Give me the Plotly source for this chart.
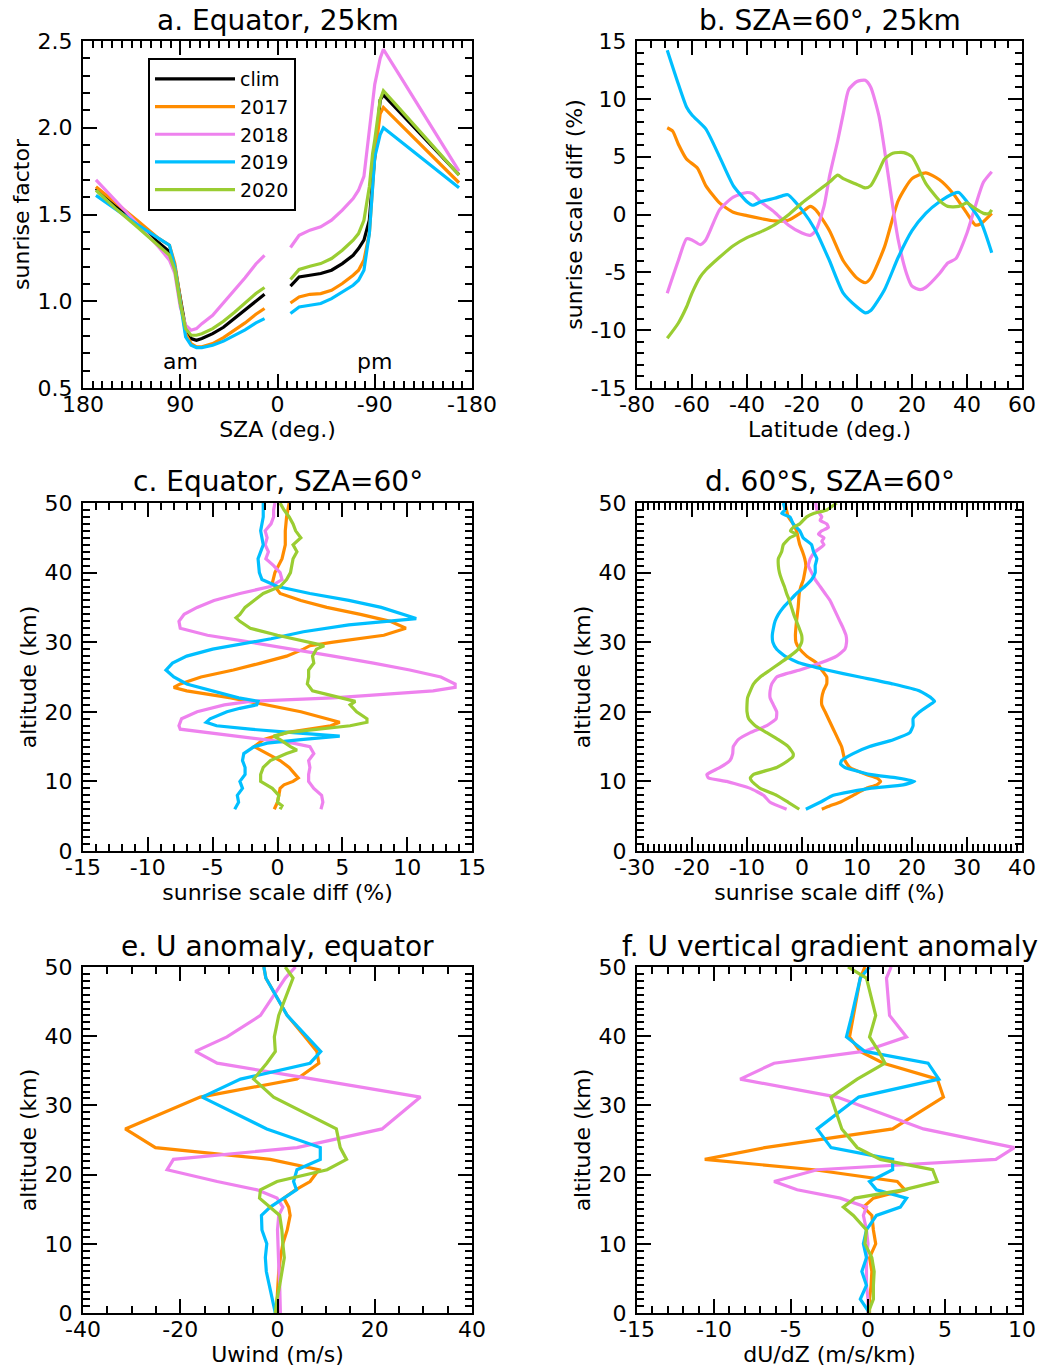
import plotly.graph_objects as go

# ---------------- colours / series ----------------
series_names = ["clim", "2017", "2018", "2019", "2020"]
series_colors = ["#000000", "#FF8C00", "#EE82EE", "#00BFFF", "#9ACD32"]

# ---------------- panel a : sunrise factor vs SZA (Equator, 25 km) ----------------
sza_am = [168, 150, 130, 110, 100, 95, 90, 85, 80, 75, 70, 60, 50, 40, 30, 20, 12]
sza_pm = [-12, -20, -30, -40, -50, -60, -70, -75, -80, -85, -88, -90, -95, -98, -110, -130, -150, -168]

a_am = {
    "clim": [1.65, 1.556, 1.446, 1.338, 1.285, 1.198, 1.006, 0.842, 0.785, 0.775, 0.785, 0.813, 0.85, 0.90, 0.95, 1.0, 1.04],
    "2017": [1.66, 1.57, 1.467, 1.362, 1.323, 1.217, 1.006, 0.813, 0.756, 0.737, 0.737, 0.756, 0.79, 0.83, 0.875, 0.925, 0.958],
    "2018": [1.70, 1.583, 1.448, 1.313, 1.237, 1.16, 0.967, 0.862, 0.833, 0.842, 0.871, 0.919, 0.99, 1.06, 1.135, 1.215, 1.265],
    "2019": [1.61, 1.529, 1.444, 1.362, 1.323, 1.198, 0.987, 0.794, 0.746, 0.733, 0.733, 0.746, 0.77, 0.80, 0.835, 0.875, 0.90],
    "2020": [1.64, 1.535, 1.429, 1.323, 1.265, 1.179, 0.987, 0.842, 0.804, 0.804, 0.813, 0.842, 0.885, 0.935, 0.99, 1.045, 1.079],
}
a_pm = {
    "clim": [1.087, 1.14, 1.15, 1.16, 1.179, 1.217, 1.265, 1.304, 1.352, 1.467, 1.70, 1.833, 2.16, 2.19, 2.111, 1.979, 1.848, 1.729],
    "2017": [0.99, 1.025, 1.04, 1.044, 1.063, 1.102, 1.15, 1.179, 1.237, 1.39, 1.66, 1.83, 2.08, 2.117, 2.043, 1.919, 1.795, 1.683],
    "2018": [1.31, 1.38, 1.41, 1.429, 1.467, 1.525, 1.592, 1.64, 1.72, 1.98, 2.15, 2.25, 2.40, 2.452, 2.332, 2.131, 1.93, 1.75],
    "2019": [0.929, 0.967, 0.977, 0.987, 1.015, 1.054, 1.092, 1.121, 1.179, 1.39, 1.66, 1.83, 1.96, 2.0, 1.941, 1.842, 1.743, 1.654],
    "2020": [1.125, 1.183, 1.202, 1.217, 1.246, 1.294, 1.352, 1.39, 1.467, 1.66, 1.85, 1.93, 2.16, 2.213, 2.13, 1.991, 1.852, 1.727],
}

# ---------------- panel b : sunrise scale diff vs latitude ----------------
b_lat_2017 = [-69, -67, -65, -62, -58, -55, -50, -45, -40, -35, -30, -25, -20, -17, -15, -10, -5, 0, 3, 5, 10, 15, 20, 25, 30, 35, 40, 43, 45, 49]
b_val_2017 = [7.5, 7.2, 6.1, 4.8, 4.0, 2.5, 1.0, 0.2, -0.1, -0.35, -0.55, -0.5, 0.2, 0.7, 0.4, -1.4, -4.0, -5.5, -5.9, -5.5, -2.8, 1.2, 3.1, 3.6, 3.0, 1.8, 0.1, -0.9, -0.8, 0.1]
b_lat_2018 = [-69, -65, -62, -60, -57, -55, -50, -45, -40, -38, -35, -30, -25, -20, -17, -15, -12, -10, -7, -5, -3, 0, 3, 5, 8, 10, 13, 15, 18, 20, 23, 25, 30, 33, 36, 40, 43, 46, 49]
b_val_2018 = [-6.8, -4.0, -2.1, -2.2, -2.6, -2.2, 0.4, 1.5, 1.9, 1.8, 1.1, 0.2, -0.9, -1.6, -1.8, -1.4, 0.7, 3.3, 6.4, 8.7, 10.8, 11.5, 11.6, 11.0, 8.5, 5.6, 0.7, -2.2, -5.1, -6.2, -6.5, -6.3, -5.1, -4.2, -3.8, -1.6, 0.7, 2.8, 3.7]
b_lat_2019 = [-69, -65, -62, -60, -55, -50, -45, -40, -38, -35, -30, -26, -25, -20, -15, -10, -5, 0, 3, 5, 10, 15, 20, 25, 30, 35, 37, 40, 45, 49]
b_val_2019 = [14.2, 11.3, 9.3, 8.6, 7.4, 5.0, 2.5, 1.1, 0.8, 1.1, 1.4, 1.7, 1.7, 0.4, -1.4, -4.0, -6.8, -8.0, -8.5, -8.3, -6.5, -3.7, -1.4, 0.1, 1.1, 1.8, 1.9, 1.1, -0.6, -3.3]
b_lat_2020 = [-69, -65, -62, -60, -57, -55, -50, -45, -40, -35, -30, -25, -20, -15, -10, -7, -5, 0, 3, 5, 8, 10, 13, 17, 20, 25, 30, 33, 37, 40, 43, 46, 48, 49]
b_val_2020 = [-10.7, -9.4, -8.0, -6.8, -5.4, -4.8, -3.7, -2.7, -2.0, -1.5, -0.9, -0.05, 1.0, 1.9, 2.8, 3.4, 3.1, 2.6, 2.3, 2.5, 3.8, 4.8, 5.3, 5.35, 5.0, 2.7, 1.2, 0.7, 0.7, 1.0, 0.5, 0.1, 0.1, 0.4]

# ---------------- panel c : Equator, SZA=60, profiles ----------------
c_alt_2017 = [50, 48, 46, 44, 42, 40, 38.5, 37, 36, 35, 34, 33, 32, 31, 30, 29.5, 29, 28, 27, 26, 25, 24, 23.5, 23, 22, 21, 20, 19, 18.5, 18, 17, 16, 15, 14, 13, 12, 11, 10.5, 10, 9.5, 9, 8, 7, 6]
c_val_2017 = [0.9, 0.7, 0.6, 0.6, 0.35, -0.2, -0.4, 0.2, 1.8, 3.8, 6.4, 8.7, 9.9, 8.2, 4.3, 2.5, 2.0, 0.7, -1.3, -3.4, -5.9, -7.5, -8.0, -7.0, -3.6, -0.8, 1.8, 3.8, 4.8, 4.1, 0.7, -1.1, -1.8, -0.8, 0.2, 0.9, 1.4, 1.6, 1.2, 0.5, 0.2, 0.1, 0.0, -0.25]
c_alt_2018 = [50, 49, 48, 47, 46, 45, 44, 43, 42, 41, 40, 39, 38, 37, 36, 35, 34, 33, 32, 31, 30, 29, 28, 27, 26, 25, 24, 23.5, 23, 22, 21.5, 21, 20, 19, 18, 17.5, 17, 16, 15.5, 15, 14, 13, 12, 11, 10, 9, 8, 7, 6]
c_val_2018 = [-0.2, -0.3, -0.3, -0.5, -0.95, -0.8, -0.95, -0.7, -0.9, -0.3, 0.2, 0.35, -0.55, -2.9, -4.9, -6.2, -7.2, -7.6, -7.5, -5.4, -2.1, 1.2, 4.3, 7.4, 10.2, 12.6, 13.7, 13.7, 12.0, 4.3, -2.1, -4.1, -6.2, -7.4, -7.6, -7.5, -5.4, -0.8, 1.2, 2.5, 2.8, 2.4, 2.5, 2.4, 2.4, 2.8, 3.4, 3.5, 3.35]
c_alt_2019 = [50, 48, 46, 44, 42, 40, 39, 38.5, 38, 37, 36, 35, 34, 33.4, 32.5, 31.5, 30.5, 30, 29, 28, 27, 26, 25, 24, 23, 22, 21.5, 21, 20.5, 20, 19, 18.5, 18, 17.5, 17, 16.5, 16, 15.5, 15, 14, 13, 12, 11, 10, 9, 8, 7, 6]
c_val_2019 = [-1.1, -1.1, -1.3, -1.1, -1.5, -1.4, -1.2, -0.55, 0.0, 2.5, 5.5, 8.0, 9.8, 10.7, 5.5, 2.0, -0.5, -2.0, -5.0, -7.0, -8.1, -8.6, -8.0, -7.0, -5.0, -3.0, -1.5, -1.6, -2.9, -3.9, -5.2, -5.5, -4.7, -2.1, 1.2, 4.8, 1.8, -0.8, -1.8, -2.6, -2.7, -2.5, -2.5, -2.9, -2.7, -3.1, -3.0, -3.3]
c_alt_2020 = [50, 49, 48, 47, 46, 45, 44, 43, 42, 41, 40, 39, 38, 37, 36, 35, 34, 33.5, 33, 32, 31, 30, 29.5, 29, 28, 27, 26, 25, 24, 23, 22, 21.5, 21, 20, 19, 18.5, 18, 17.5, 17, 16.5, 16, 15, 14.5, 14, 13, 12, 11, 10, 9.5, 9, 8, 7, 6.5, 6]
c_val_2020 = [0.2, 0.5, 0.9, 1.2, 1.4, 1.8, 1.2, 1.5, 1.2, 1.1, 1.0, 0.7, 0.2, -1.1, -1.8, -2.5, -2.9, -3.2, -2.9, -2.1, 0.0, 2.3, 3.6, 3.0, 2.7, 2.8, 2.4, 2.4, 2.3, 2.7, 4.8, 6.0, 5.6, 6.1, 6.9, 6.9, 5.6, 3.0, 0.7, -0.3, 0.2, 1.0, 1.5, 0.7, -0.55, -1.1, -1.3, -1.3, -0.8, -0.4, 0.1, 0.0, 0.35, 0.2]

# ---------------- panel d : 60S, SZA=60, profiles ----------------
d_alt_2017 = [50, 48, 47, 46, 45, 44, 43, 42, 41, 40, 39, 38, 37, 35, 33, 31, 30, 29, 28, 27, 26, 25, 24, 23, 22, 21, 20, 19, 18, 17, 16, 15, 14, 13, 12, 11, 10.5, 10, 9.5, 9, 8, 7, 6.5, 6]
d_val_2017 = [-3.1, -2.5, -1.6, -1.0, -0.7, -0.4, 0.1, 0.5, 0.7, 0.5, 0.25, -0.2, -0.5, -0.7, -1.0, -1.2, -1.1, -0.4, 0.85, 2.7, 3.6, 4.5, 4.5, 3.9, 3.6, 3.6, 4.2, 4.8, 5.4, 6.0, 6.6, 7.2, 7.5, 7.8, 8.7, 11.7, 13.6, 14.3, 13.6, 11.7, 9.3, 6.9, 5.1, 3.6]
d_alt_2018 = [50, 49, 48, 47.5, 47, 46.5, 46, 45.5, 45, 44.5, 44, 43, 42, 41, 40, 39, 38, 37, 36, 35, 34, 33, 32, 31, 30, 29, 28, 27, 26, 25.5, 25, 24, 23, 22, 21, 20, 19, 18, 17, 16, 15, 14, 13, 12, 11, 10.5, 10, 9, 8, 7, 6]
d_val_2018 = [2.5, 2.7, 3.6, 3.3, 4.5, 4.8, 3.6, 3.0, 4.0, 3.6, 4.0, 2.4, 1.5, 1.15, 1.75, 2.4, 3.3, 4.2, 5.1, 5.7, 6.3, 6.9, 7.5, 8.0, 8.1, 7.8, 6.3, 3.3, -0.4, -2.8, -4.6, -5.5, -5.8, -5.8, -5.2, -4.6, -4.7, -6.4, -9.4, -11.6, -12.5, -12.6, -13.1, -14.9, -17.3, -17.0, -13.7, -9.4, -7.0, -5.8, -2.8]
d_alt_2019 = [50, 49, 48.5, 48, 47, 46, 45, 44, 43, 42, 41, 40, 39, 38, 37, 36, 35, 34, 33, 32, 31, 30, 29, 28, 27, 26, 25, 24, 23, 22, 21.5, 21, 20, 19, 18, 17, 16, 15, 14, 13, 12.5, 12, 11, 10.5, 10, 9.5, 9, 8, 7, 6]
d_val_2019 = [-3.4, -3.1, -3.7, -2.2, -1.6, -0.4, 0.2, 1.75, 2.1, 2.7, 2.4, 2.4, 1.75, 0.5, -1.0, -2.2, -3.4, -4.3, -4.9, -5.2, -5.4, -5.3, -4.6, -3.1, -0.4, 4.5, 10.5, 16.6, 21.4, 23.5, 24.1, 23.2, 21.4, 20.2, 20.2, 19.6, 16.6, 12.3, 9.3, 7.2, 7.0, 7.8, 12.3, 17.2, 20.5, 18.4, 12.3, 5.7, 3.3, 0.7]
d_alt_2020 = [50, 49, 48.5, 48, 47, 46.5, 46, 45.5, 45, 44, 43, 42.5, 42, 41, 40, 39, 38, 37, 36, 35, 34, 33, 32, 31, 30, 29, 28, 27, 26, 25, 24, 23, 22, 21, 20, 19, 18, 17, 16, 15, 14, 13.5, 13, 12, 11, 10.5, 10, 9, 8, 7, 6]
d_val_2020 = [6.3, 4.5, 2.1, 0.85, -0.4, -1.6, -2.1, -1.0, -2.2, -3.4, -3.7, -4.0, -4.3, -4.3, -4.1, -3.7, -3.2, -2.8, -2.3, -1.9, -1.5, -1.0, -0.5, -0.06, -0.06, -0.7, -2.2, -4.0, -5.8, -7.6, -8.8, -9.4, -9.9, -10.0, -10.0, -9.7, -8.5, -6.4, -4.3, -2.5, -1.6, -1.7, -2.5, -4.6, -8.8, -9.4, -9.1, -7.6, -4.6, -2.5, -0.5]

# ---------------- panels e, f : U anomaly and dU/dZ anomaly at model levels ----------------
ef_alt = [0, 2, 4, 6, 8, 10, 12, 14.1, 15.3, 16.6, 17.8, 19.0, 20.7, 22.2, 23.9, 26.6, 31.2, 33.8, 36.1, 37.8, 39.9, 43.0, 48.4, 50]

e_u_2017 = [-0.25, -0.1, 0.0, 0.25, 0.6, 1.1, 2.0, 2.6, 2.3, 1.3, 3.7, 6.7, 8.5, -1.5, -25.1, -31.3, -15.9, 4.0, 8.5, 8.1, 5.7, 2.0, -2.4, -2.8]
e_u_2018 = [0.6, 0.6, 0.45, 0.3, 0.2, 0.03, 0.0, 0.25, 1.1, -0.1, -4.2, -12.4, -22.7, -21.4, 4.0, 21.5, 29.4, 7.4, -12.4, -16.9, -10.4, -3.5, 1.6, 3.7]
e_u_2019 = [-0.45, -1.1, -1.8, -2.3, -2.5, -2.2, -3.2, -3.3, -1.5, 1.3, 3.9, 3.3, 4.0, 8.8, 8.8, -2.2, -15.5, -7.6, 6.7, 8.9, 6.1, 2.0, -2.4, -2.8]
e_u_2020 = [-0.45, -0.1, 0.45, 0.9, 1.4, 1.1, 0.9, 0.45, -1.5, -3.7, -3.5, -0.1, 10.2, 14.2, 12.9, 12.1, -0.8, -4.9, -2.2, -0.45, -0.65, 0.25, 3.2, 1.6]

f_dudz_2017 = [0.1, 0.1, 0.2, 0.25, 0.1, 0.5, 0.35, 0.25, -0.3, 0.35, 2.4, 1.9, -3.5, -10.6, -6.7, 1.6, 4.9, 4.5, 1.0, -0.5, -1.2, -0.95, -0.5, -0.2]
f_dudz_2018 = [0.0, 0.0, -0.1, -0.1, -0.1, 0.0, -0.1, -0.3, -0.1, -1.8, -4.6, -6.1, -3.3, 8.3, 9.5, 3.6, -2.0, -8.3, -6.1, -0.3, 2.5, 1.4, 1.2, 1.5]
f_dudz_2019 = [0.1, -0.5, -0.1, -0.4, -0.1, -0.3, -0.1, 0.55, 2.1, 2.5, 0.55, 0.1, 1.6, 1.6, -2.4, -3.3, -0.6, 4.6, 3.9, -0.2, -1.4, -1.05, -0.5, 0.1]
f_dudz_2020 = [0.0, 0.35, 0.35, 0.4, 0.25, -0.2, -0.1, -0.95, -1.6, -0.85, 2.3, 4.5, 4.2, 0.8, -0.7, -1.7, -2.4, -0.7, 1.1, 0.7, 0.1, 0.5, -0.1, -1.3]

# ---------------- text ----------------
panel_titles = ["a. Equator, 25km", "b. SZA=60°, 25km", "c. Equator, SZA=60°",
                "d. 60°S, SZA=60°", "e. U anomaly, equator", "f. U vertical gradient anomaly"]
x_titles = ["SZA (deg.)", "Latitude (deg.)", "sunrise scale diff (%)",
            "sunrise scale diff (%)", "Uwind (m/s)", "dU/dZ (m/s/km)"]
y_titles = ["sunrise factor", "sunrise scale diff (%)", "altitude (km)",
            "altitude (km)", "altitude (km)", "altitude (km)"]

a_xticks = [180, 90, 0, -90, -180]
a_xticklabels = ["180", "90", "0", "-90", "-180"]
a_yticks = [0.5, 1.0, 1.5, 2.0, 2.5]
a_yticklabels = ["0.5", "1.0", "1.5", "2.0", "2.5"]
b_xticks = [-80, -60, -40, -20, 0, 20, 40, 60]
b_yticks = [-15, -10, -5, 0, 5, 10, 15]
c_xticks = [-15, -10, -5, 0, 5, 10, 15]
d_xticks = [-30, -20, -10, 0, 10, 20, 30, 40]
e_xticks = [-40, -20, 0, 20, 40]
f_xticks = [-15, -10, -5, 0, 5, 10]
alt_ticks = [0, 10, 20, 30, 40, 50]

# ---------------- figure ----------------
W, H = 1047, 1369
FONT = "DejaVu Sans"
fig = go.Figure()

# plot-area boxes in pixels (left, right, top, bottom)
boxes = [(83, 472, 41, 388), (637, 1022, 41, 388),
         (83, 472, 503, 851), (637, 1022, 503, 851),
         (83, 472, 967, 1313), (637, 1022, 967, 1313)]


def axname(i, ax):
    return ax if i == 0 else f"{ax}{i + 1}"


LW = 3.2

# panel a
for k, name in enumerate(series_names):
    xs = sza_am + [None] + sza_pm
    ys = a_am[name] + [None] + a_pm[name]
    fig.add_trace(go.Scatter(x=xs, y=ys, mode="lines", name=name,
                             line=dict(color=series_colors[k], width=LW),
                             connectgaps=False, xaxis="x", yaxis="y",
                             showlegend=True, legendrank=k))

# panel b
b_data = [(b_lat_2017, b_val_2017), (b_lat_2018, b_val_2018),
          (b_lat_2019, b_val_2019), (b_lat_2020, b_val_2020)]
for k, (xs, ys) in enumerate(b_data):
    fig.add_trace(go.Scatter(x=xs, y=ys, mode="lines", name=series_names[k + 1],
                             line=dict(color=series_colors[k + 1], width=LW, shape="spline", smoothing=0.6),
                             xaxis="x2", yaxis="y2", showlegend=False))

# panel c
c_data = [(c_val_2017, c_alt_2017), (c_val_2018, c_alt_2018),
          (c_val_2019, c_alt_2019), (c_val_2020, c_alt_2020)]
for k, (xs, ys) in enumerate(c_data):
    fig.add_trace(go.Scatter(x=xs, y=ys, mode="lines", name=series_names[k + 1],
                             line=dict(color=series_colors[k + 1], width=LW),
                             xaxis="x3", yaxis="y3", showlegend=False))

# panel d
d_data = [(d_val_2017, d_alt_2017), (d_val_2018, d_alt_2018),
          (d_val_2019, d_alt_2019), (d_val_2020, d_alt_2020)]
for k, (xs, ys) in enumerate(d_data):
    fig.add_trace(go.Scatter(x=xs, y=ys, mode="lines", name=series_names[k + 1],
                             line=dict(color=series_colors[k + 1], width=LW, shape="spline", smoothing=0.4),
                             xaxis="x4", yaxis="y4", showlegend=False))

# panel e
for k, xs in enumerate([e_u_2017, e_u_2018, e_u_2019, e_u_2020]):
    fig.add_trace(go.Scatter(x=xs, y=ef_alt, mode="lines", name=series_names[k + 1],
                             line=dict(color=series_colors[k + 1], width=LW),
                             xaxis="x5", yaxis="y5", showlegend=False))

# panel f
for k, xs in enumerate([f_dudz_2017, f_dudz_2018, f_dudz_2019, f_dudz_2020]):
    fig.add_trace(go.Scatter(x=xs, y=ef_alt, mode="lines", name=series_names[k + 1],
                             line=dict(color=series_colors[k + 1], width=LW),
                             xaxis="x6", yaxis="y6", showlegend=False))


def fmt(v):
    return str(int(v)) if float(v).is_integer() else str(v)


axis_specs = [
    # x ticks, x labels, x range, x minor, y ticks, y labels, y range, y minor
    (a_xticks, a_xticklabels, [180, -180], 9, a_yticks, a_yticklabels, [0.5, 2.5], 0.1),
    (b_xticks, [fmt(v) for v in b_xticks], [-80, 60], 5, b_yticks, [fmt(v) for v in b_yticks], [-15, 15], 1),
    (c_xticks, [fmt(v) for v in c_xticks], [-15, 15], 1, alt_ticks, [fmt(v) for v in alt_ticks], [0, 50], 1),
    (d_xticks, [fmt(v) for v in d_xticks], [-30, 40], 1, alt_ticks, [fmt(v) for v in alt_ticks], [0, 50], 1),
    (e_xticks, [fmt(v) for v in e_xticks], [-40, 40], 5, alt_ticks, [fmt(v) for v in alt_ticks], [0, 50], 1),
    (f_xticks, [fmt(v) for v in f_xticks], [-15, 10], 1, alt_ticks, [fmt(v) for v in alt_ticks], [0, 50], 1),
]

common = dict(showline=True, linecolor="black", linewidth=2, mirror="allticks",
              ticks="inside", ticklen=14, tickwidth=1.6, tickcolor="black",
              showgrid=False, zeroline=False, automargin=False,
              tickfont=dict(family=FONT, size=22, color="black"))

layout = {}
for i, (box, spec) in enumerate(zip(boxes, axis_specs)):
    l, r, t, b = box
    xt, xl, xr, xm, yt, yl, yr, ym = spec
    xa = axname(i, "xaxis")
    ya = axname(i, "yaxis")
    layout[xa] = dict(common, domain=[l / W, r / W], anchor=axname(i, "y"),
                      range=xr, tickmode="array", tickvals=xt, ticktext=xl,
                      minor=dict(ticks="inside", ticklen=7, tickwidth=1.6, tickcolor="black",
                                 dtick=xm, tick0=0, showgrid=False),
                      ticklabelstandoff=-4,
                      title=dict(text=x_titles[i], font=dict(family=FONT, size=22, color="black"), standoff=0))
    layout[ya] = dict(common, domain=[1 - b / H, 1 - t / H], anchor=axname(i, "x"),
                      range=yr, tickmode="array", tickvals=yt, ticktext=yl,
                      minor=dict(ticks="inside", ticklen=7, tickwidth=1.6, tickcolor="black",
                                 dtick=ym, tick0=0, showgrid=False),
                      ticklabelstandoff=4,
                      title=dict(text=y_titles[i], font=dict(family=FONT, size=22, color="black"), standoff=2))

annotations = []
title_centres = [(277.5, 20), (829.5, 20), (277.5, 482), (829.5, 482), (277.5, 946), (829.5, 946)]
for i, (cx, cy) in enumerate(title_centres):
    annotations.append(dict(text=panel_titles[i], x=cx / W, y=1 - cy / H, xref="paper", yref="paper",
                            xanchor="center", yanchor="middle", showarrow=False,
                            font=dict(family=FONT, size=28, color="black")))
annotations.append(dict(text="am", x=90, y=0.65, xref="x", yref="y", showarrow=False,
                        font=dict(family=FONT, size=22, color="black")))
annotations.append(dict(text="pm", x=-90, y=0.65, xref="x", yref="y", showarrow=False,
                        font=dict(family=FONT, size=22, color="black")))

fig.update_layout(
    width=W, height=H,
    margin=dict(l=0, r=0, t=0, b=0, autoexpand=False),
    paper_bgcolor="white", plot_bgcolor="white",
    font=dict(family=FONT, size=22, color="black"),
    annotations=annotations,
    showlegend=True,
    legend=dict(x=148 / W, y=1 - 58 / H, xanchor="left", yanchor="top",
                bordercolor="black", borderwidth=2, bgcolor="white",
                font=dict(family=FONT, size=19, color="black"),
                itemwidth=80, tracegroupgap=0, traceorder="normal"),
    **layout,
)

fig.write_html("out.html", config={"displayModeBar": False},
               post_script="document.body.style.margin='0px';")
